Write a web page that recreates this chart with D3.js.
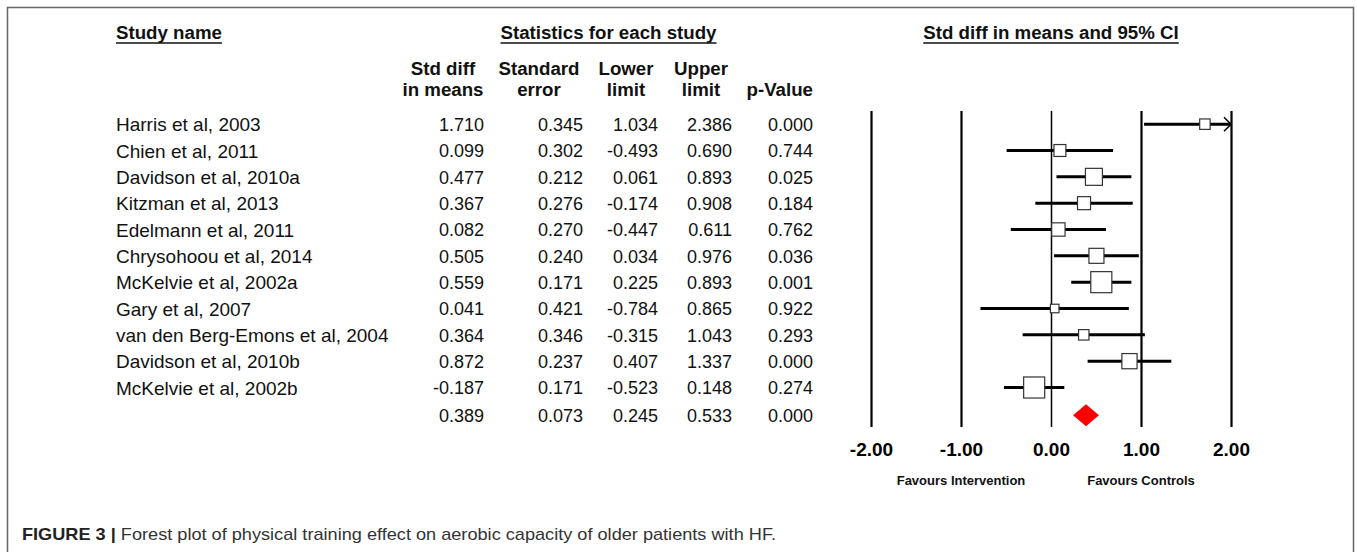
<!DOCTYPE html>
<html><head><meta charset="utf-8">
<script src="https://cdn.jsdelivr.net/npm/d3@7"></script>
<style>
html,body{margin:0;padding:0;background:#fff;}
svg{display:block;font-family:"Liberation Sans",Arial,sans-serif;}
</style></head>
<body>
<svg id="chart" width="1357" height="552"></svg>
<script>
const studies = ["Harris et al, 2003","Chien et al, 2011","Davidson et al, 2010a","Kitzman et al, 2013","Edelmann et al, 2011","Chrysohoou et al, 2014","McKelvie et al, 2002a","Gary et al, 2007","van den Berg-Emons et al, 2004","Davidson et al, 2010b","McKelvie et al, 2002b"];
const smd   = [1.710,0.099,0.477,0.367,0.082,0.505,0.559,0.041,0.364,0.872,-0.187];
const se    = [0.345,0.302,0.212,0.276,0.270,0.240,0.171,0.421,0.346,0.237,0.171];
const lower = [1.034,-0.493,0.061,-0.174,-0.447,0.034,0.225,-0.784,-0.315,0.407,-0.523];
const upper = [2.386,0.690,0.893,0.908,0.611,0.976,0.893,0.865,1.043,1.337,0.148];
const pval  = [0.000,0.744,0.025,0.184,0.762,0.036,0.001,0.922,0.293,0.000,0.274];
const pooled = {smd:0.389, se:0.073, lower:0.245, upper:0.533, p:0.000};
const xTicks = [-2,-1,0,1,2];
const colHeads = [["Std diff","in means"],["Standard","error"],["Lower","limit"],["Upper","limit"],["","p-Value"]];
const caption = {bold:"FIGURE 3 |", text:" Forest plot of physical training effect on aerobic capacity of older patients with HF."};

const svg = d3.select("#chart");
const NAMEF = 19, NUMF = 18, HEADF = 18.7;
const loc = d3.formatLocale({decimal:".", thousands:",", grouping:[3], currency:["",""], minus:"-"});
const f3 = loc.format(".3f"), f2 = loc.format(".2f");

// frame
svg.append("path").attr("d","M7.5,552 V7.5 H1353.5 V552")
  .attr("fill","none").attr("stroke","#666").attr("stroke-width",1.5);

const y = d3.scaleBand().domain(d3.range(12)).range([111,427]);
const x = d3.scaleLinear().domain([-2,2]).range([871,1231]);
const cy = i => y(i)+y.bandwidth()/2;

// headers
function underlinedHeader(txt, xc, yc, anchor){
  const t = svg.append("text").attr("x",xc).attr("y",yc).attr("text-anchor",anchor)
    .attr("dy","0.35em").attr("font-weight","bold").attr("font-size",HEADF).attr("fill","#111").text(txt);
  const w = t.node().getComputedTextLength();
  const x1 = anchor==="middle" ? xc-w/2 : xc;
  svg.append("line").attr("x1",x1).attr("x2",x1+w).attr("y1",yc+10.5).attr("y2",yc+10.5)
    .attr("stroke","#111").attr("stroke-width",1.5);
}
underlinedHeader("Study name", 116, 32.5, "start");
underlinedHeader("Statistics for each study", 608.5, 32.5, "middle");
underlinedHeader("Std diff in means and 95% CI", x(0), 32.5, "middle");

const colRight = [484,583,658,732,813];
const colCenter = [443,539,626,701,770];
colHeads.forEach((h,j)=>{
  h.forEach((line,k)=>{
    if(!line) return;
    svg.append("text").attr("x", j===4 ? colRight[j] : colCenter[j]).attr("y", 68+k*21.5).attr("dy","0.35em")
      .attr("text-anchor", j===4 ? "end":"middle").attr("font-weight","bold").attr("font-size",HEADF).attr("fill","#111").text(line);
  });
});

// study rows
studies.forEach((s,i)=>{
  svg.append("text").attr("x",116).attr("y",cy(i)+0.5).attr("dy","0.35em").attr("font-size",NAMEF).attr("fill","#111").text(s);
  [smd[i],se[i],lower[i],upper[i],pval[i]].forEach((v,j)=>{
    svg.append("text").attr("x",colRight[j]).attr("y",cy(i)+0.5).attr("dy","0.35em").attr("text-anchor","end")
      .attr("font-size",NUMF).attr("fill","#111").text(f3(v));
  });
});
[pooled.smd,pooled.se,pooled.lower,pooled.upper,pooled.p].forEach((v,j)=>{
  svg.append("text").attr("x",colRight[j]).attr("y",cy(11)+1.5).attr("dy","0.35em").attr("text-anchor","end")
    .attr("font-size",NUMF).attr("fill","#111").text(f3(v));
});

// axis with full-height lines
const axisG = svg.append("g").attr("transform","translate(0,427)")
  .call(d3.axisBottom(x).tickValues(xTicks).tickFormat(f2).tickSizeInner(-316).tickSizeOuter(0).tickPadding(16));
axisG.select(".domain").remove();
axisG.selectAll(".tick line").attr("stroke","#000").attr("stroke-width",d=>d===0?1.5:2.2);
axisG.selectAll(".tick text").attr("font-size",19).attr("font-weight","bold").attr("fill","#000")
  .attr("font-family","'Liberation Sans',Arial,sans-serif");

// CI lines
const clipX = v => Math.max(-2, Math.min(2, v));
studies.forEach((s,i)=>{
  svg.append("line").attr("x1",x(clipX(lower[i]))).attr("x2",x(clipX(upper[i])))
    .attr("y1",cy(i)).attr("y2",cy(i)).attr("stroke","#000").attr("stroke-width",3);
  if(upper[i] > 2){
    const xe = x(2);
    svg.append("path").attr("d",`M${xe-7},${cy(i)-7} L${xe},${cy(i)} L${xe-7},${cy(i)+7}`)
      .attr("fill","none").attr("stroke","#000").attr("stroke-width",1.5);
  }
});

// boxes sized by inverse-variance weight
const w = se.map(s=>1/(s*s));
const side = d3.scaleSqrt().domain([0,d3.max(w)]).range([0,3.6*Math.sqrt(d3.max(w))]);
studies.forEach((s,i)=>{
  const sz = side(w[i]);
  svg.append("rect").attr("x",x(smd[i])-sz/2).attr("y",cy(i)-sz/2).attr("width",sz).attr("height",sz)
    .attr("fill","#fff").attr("stroke","#333").attr("stroke-width",1.2);
});

// pooled diamond
const py = cy(11)+1.5;
svg.append("path").attr("d",`M${x(pooled.lower)},${py} L${x(pooled.smd)},${py-11} L${x(pooled.upper)},${py} L${x(pooled.smd)},${py+11} Z`)
  .attr("fill","#ff0000");

// favours labels
svg.append("text").attr("x",x(-1)).attr("y",480).attr("dy","0.35em").attr("text-anchor","middle")
  .attr("font-size",13).attr("font-weight","bold").attr("fill","#111").text("Favours Intervention");
svg.append("text").attr("x",x(1)).attr("y",480).attr("dy","0.35em").attr("text-anchor","middle")
  .attr("font-size",13).attr("font-weight","bold").attr("fill","#111").text("Favours Controls");

// caption
const cap = svg.append("text").attr("x",22).attr("y",540).attr("font-size",17).attr("fill","#333")
  .attr("textLength",754).attr("lengthAdjust","spacingAndGlyphs");
cap.append("tspan").attr("font-weight","bold").attr("fill","#222").text(caption.bold);
cap.append("tspan").text(caption.text);
</script>
</body></html>
